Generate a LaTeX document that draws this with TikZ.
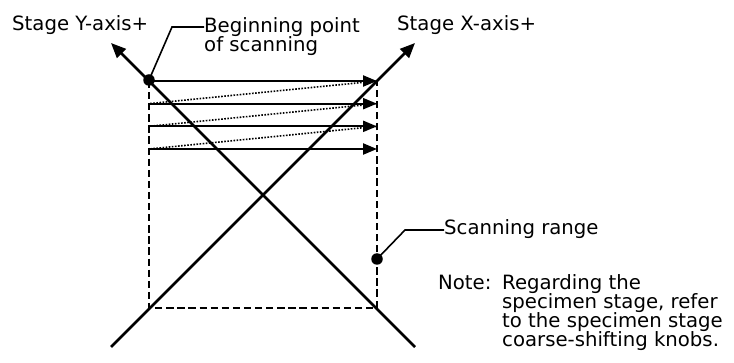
\documentclass[tikz,border=0pt]{standalone}
\usepackage{fontspec}
\setmainfont{DejaVu Sans}
\usetikzlibrary{arrows.meta}

\begin{document}
\begin{tikzpicture}[x=1pt,y=-1pt,
 axis/.style={line width=2.5pt,-{Triangle[length=15pt,width=12.5pt]}},
 scan/.style={line width=2.2pt,-{Triangle[length=14pt,width=11pt]}},
 retrace/.style={line width=1.6pt,dash pattern=on 1.6pt off 1.5pt},
 scanrange/.style={line width=2.2pt,dash pattern=on 7.3pt off 3.8pt},
 leader/.style={line width=1.6pt},
 dot/.style={circle,fill,inner sep=0pt,minimum size=11.5pt},
 lbl/.style={inner sep=0pt,anchor=base west,align=left,font=\fontsize{19.7}{19.3}\selectfont}]
\useasboundingbox (0,0) rectangle (734,363);
% stage axes
\coordinate (xtail) at (111,347);
\coordinate (xtip) at (415,43);
\coordinate (ytail) at (415,347);
\coordinate (ytip) at (111,43);
\draw[axis] (xtail) -- (xtip);
\draw[axis] (ytail) -- (ytip);
\node[lbl] (ylabel) at (12,31) {Stage Y-axis+};
\node[lbl] (xlabel) at (397,31) {Stage X-axis+};
% scan rows
\foreach \i in {0,...,3} {
  \coordinate (l\i) at (149,{81+22.67*\i});
  \coordinate (r\i) at (377,{81+22.67*\i});
}
\coordinate (bl) at (149,308);
\coordinate (br) at (377,308);
\draw[scanrange] (l0) -- (bl) -- (br) -- (r0);
\foreach \i in {0,...,3}
  \draw[scan] (l\i) -- (r\i);
\foreach \i/\j in {0/1,1/2,2/3}
  \draw[retrace] (r\i) -- (l\j);
% beginning point (base = last line)
\node[dot] (start) at (149,80) {};
\node[lbl] (bgn) at (204,51.5) {Beginning point\\of scanning};
\coordinate (bgnknee) at (172,27);
\draw[leader] (start.center) -- (bgnknee) -- (bgnknee -| bgn.west);
% scanning range
\node[dot] (rng) at (377,259) {};
\node[lbl] (rnglabel) at (444,235) {Scanning range};
\coordinate (rngknee) at (405,230);
\draw[leader] (rng.center) -- (rngknee) -- (rngknee -| rnglabel.west);
% note
\node[lbl] (note) at (438,290) {Note:};
\node[lbl] (notetext) at (502,347) {Regarding the\\specimen stage, refer\\to the specimen stage\\coarse-shifting knobs.};
\end{tikzpicture}
\end{document}
